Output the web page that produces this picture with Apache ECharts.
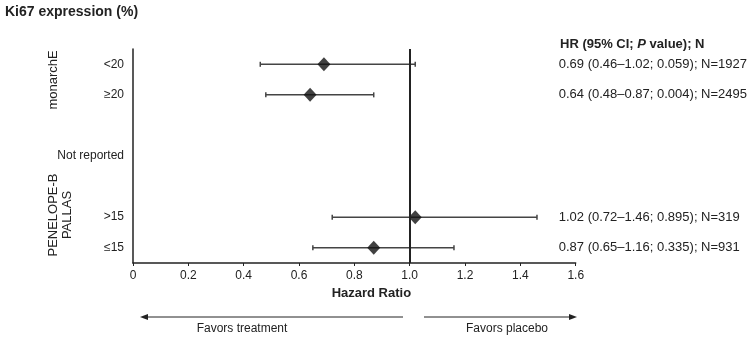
<!DOCTYPE html>
<html>
<head>
<meta charset="utf-8">
<script src="https://cdn.jsdelivr.net/npm/echarts@6/dist/echarts.min.js"></script>
<style>
  html, body { margin: 0; padding: 0; background: #fff; }
  #chart { width: 750px; height: 337px; }
</style>
</head>
<body>
<div id="chart"></div>
<script>
// rows top to bottom, blank rows are spacers
const rowLabels = ['<20', '≥20', '', 'Not reported', '', '>15', '≤15']
const rowStats = [
  '0.69 (0.46–1.02; 0.059); N=1927',
  '0.64 (0.48–0.87; 0.004); N=2495',
  '', '', '',
  '1.02 (0.72–1.46; 0.895); N=319',
  '0.87 (0.65–1.16; 0.335); N=931'
]
const hrValues = [0.69, 0.64, null, null, null, 1.02, 0.87]
const ciLow = [0.46, 0.48, null, null, null, 0.72, 0.65]
const ciHigh = [1.02, 0.87, null, null, null, 1.46, 1.16]
const xTicks = ['0', '0.2', '0.4', '0.6', '0.8', '1.0', '1.2', '1.4', '1.6']

const font = 'Liberation Sans, Arial, sans-serif'
const ink = '#222'

const points = []
const bars = []
hrValues.forEach((v, i) => {
  if (v == null) return
  points.push([v, i])
  bars.push([ciLow[i], ciHigh[i], i])
})

const chart = echarts.init(document.getElementById('chart'))

const option = {
  animation: false,
  textStyle: { fontFamily: font },
  grid: { left: 133, right: 173, top: 49, bottom: 74 },
  xAxis: {
    type: 'value',
    min: 0,
    max: 1.6,
    interval: 0.2,
    splitLine: { show: false },
    axisLine: { show: true, lineStyle: { color: ink, width: 1.5 } },
    axisTick: { show: true, length: 3, lineStyle: { color: ink } },
    axisLabel: {
      color: ink, fontSize: 12, margin: 7, fontFamily: font,
      formatter: (v) => xTicks[Math.round(v / 0.2)]
    },
    name: 'Hazard Ratio',
    nameLocation: 'middle',
    nameGap: 24,
    nameTextStyle: { color: ink, fontSize: 13, fontWeight: 'bold', fontFamily: font, padding: [0, 0, 0, 34] }
  },
  yAxis: [
    {
      type: 'category',
      data: rowLabels,
      inverse: true,
      axisLine: { show: true, lineStyle: { color: ink, width: 1.5 } },
      axisTick: { show: false },
      axisLabel: { color: ink, fontSize: 12, margin: 9, fontFamily: font },
      splitLine: { show: false }
    },
    {
      type: 'category',
      data: rowStats,
      inverse: true,
      position: 'right',
      axisLine: { show: false },
      axisTick: { show: false },
      axisLabel: { color: ink, fontSize: 13, margin: -17, align: 'left', fontFamily: font },
      splitLine: { show: false }
    }
  ],
  series: [
    {
      type: 'custom',
      data: bars,
      z: 2,
      renderItem: (params, api) => {
        const a = api.coord([api.value(0), api.value(2)])
        const b = api.coord([api.value(1), api.value(2)])
        const style = { stroke: '#444', lineWidth: 1.5 }
        return {
          type: 'group',
          children: [
            { type: 'line', shape: { x1: a[0], y1: a[1], x2: b[0], y2: b[1] }, style },
            { type: 'line', shape: { x1: a[0], y1: a[1] - 2.5, x2: a[0], y2: a[1] + 2.5 }, style },
            { type: 'line', shape: { x1: b[0], y1: b[1] - 2.5, x2: b[0], y2: b[1] + 2.5 }, style }
          ]
        }
      }
    },
    {
      type: 'scatter',
      data: points,
      symbol: 'diamond',
      symbolSize: [13, 14],
      itemStyle: { color: '#111' },
      z: 3,
      markLine: {
        silent: true,
        symbol: 'none',
        label: { show: false },
        lineStyle: { color: ink, width: 2, type: 'solid' },
        data: [{ xAxis: 1 }]
      }
    }
  ],
  graphic: [
    {
      type: 'text', left: 5, top: 5,
      style: { text: 'Ki67 expression (%)', font: 'bold 14px ' + font, fill: ink }
    },
    {
      type: 'text', left: 560, top: 38,
      style: {
        text: '{b|HR (95% CI; }{i|P}{b| value); N}',
        rich: {
          b: { font: 'bold 13px ' + font, fill: ink },
          i: { font: 'italic bold 13px ' + font, fill: ink }
        }
      }
    },
    {
      type: 'text', x: 53, y: 80, rotation: Math.PI / 2,
      style: { text: 'monarchE', font: '13px ' + font, fill: ink, align: 'center', verticalAlign: 'middle' }
    },
    {
      type: 'text', x: 60, y: 215, rotation: Math.PI / 2,
      style: { text: 'PENELOPE-B\nPALLAS', font: '13px ' + font, fill: ink, align: 'center', verticalAlign: 'middle', lineHeight: 14 }
    },
    // direction arrows
    { type: 'line', shape: { x1: 147, y1: 317, x2: 403, y2: 317 }, style: { stroke: ink, lineWidth: 1 } },
    { type: 'polygon', shape: { points: [[140, 317], [148, 314], [148, 320]] }, style: { fill: ink } },
    { type: 'line', shape: { x1: 424, y1: 317, x2: 570, y2: 317 }, style: { stroke: ink, lineWidth: 1 } },
    { type: 'polygon', shape: { points: [[577, 317], [569, 314], [569, 320]] }, style: { fill: ink } },
    {
      type: 'text', x: 242, y: 329,
      style: { text: 'Favors treatment', font: '12px ' + font, fill: ink, align: 'center', verticalAlign: 'middle' }
    },
    {
      type: 'text', x: 507, y: 329,
      style: { text: 'Favors placebo', font: '12px ' + font, fill: ink, align: 'center', verticalAlign: 'middle' }
    }
  ]
}

chart.setOption(option)
</script>
</body>
</html>
